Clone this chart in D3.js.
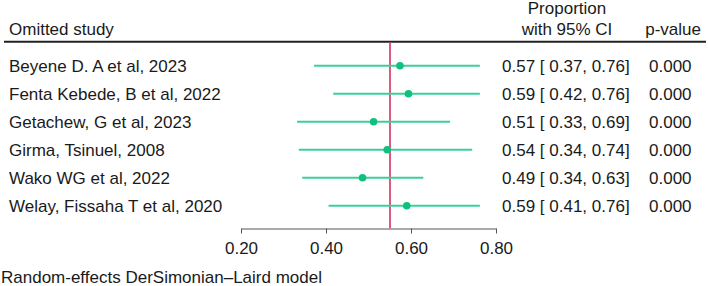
<!DOCTYPE html>
<html>
<head>
<meta charset="utf-8">
<script src="https://cdn.jsdelivr.net/npm/d3@7"></script>
<style>
  body { margin: 0; background: #fff; }
  text { font-family: "Liberation Sans", Arial, sans-serif; fill: #1a1a1a; }
</style>
</head>
<body>
<script>
// Leave-one-out sensitivity forest plot

const w = 708;
const h = 286;
const fs = "17px";

const studies = [
  "Beyene D. A et al, 2023",
  "Fenta Kebede, B et al, 2022",
  "Getachew, G et al, 2023",
  "Girma, Tsinuel, 2008",
  "Wako WG et al, 2022",
  "Welay, Fissaha T et al, 2020"
];
const estimate = [0.574, 0.594, 0.512, 0.544, 0.486, 0.590];
const lower    = [0.372, 0.417, 0.332, 0.336, 0.344, 0.406];
const upper    = [0.762, 0.762, 0.692, 0.744, 0.629, 0.762];
const pvalue   = ["0.000", "0.000", "0.000", "0.000", "0.000", "0.000"];
const overall  = 0.5506;
const xTicks   = [0.2, 0.4, 0.6, 0.8];

const rows = studies.map((s, i) => ({
  study: s, est: estimate[i], lo: lower[i], hi: upper[i], p: pvalue[i]
}));

const svg = d3.select("body")
  .append("svg")
  .attr("width", w)
  .attr("height", h);

const x_scale = d3.scaleLinear()
  .domain([0.2, 0.8])
  .range([241, 496]);

const y_scale = d3.scaleBand()
  .domain(studies)
  .range([51.7, 219.7]);

const f2 = d3.format(".2f");

// header
svg.append("text").attr("x", 9).attr("y", 35).attr("font-size", fs).text("Omitted study");
svg.append("text").attr("x", 567).attr("y", 14).attr("text-anchor", "middle").attr("font-size", fs).text("Proportion");
svg.append("text").attr("x", 567).attr("y", 35).attr("text-anchor", "middle").attr("font-size", fs).text("with 95% CI");
svg.append("text").attr("x", 701).attr("y", 35).attr("text-anchor", "end").attr("font-size", fs).text("p-value");

svg.append("line")
  .attr("x1", 4).attr("x2", 706)
  .attr("y1", 41.7).attr("y2", 41.7)
  .attr("stroke", "#222")
  .attr("stroke-width", 2);

// axis
const x_axis = d3.axisBottom(x_scale)
  .tickValues(xTicks)
  .tickFormat(f2)
  .tickSize(5)
  .tickSizeOuter(0);

const ax = svg.append("g")
  .attr("class", "x axis")
  .attr("transform", "translate(0,228.5)")
  .call(x_axis);
ax.select(".domain").attr("stroke", "#555");
ax.selectAll(".tick line").attr("stroke", "#555");
ax.selectAll(".tick text")
  .attr("font-size", fs)
  .attr("font-family", "Liberation Sans, Arial, sans-serif")
  .attr("fill", "#1a1a1a")
  .attr("dy", null)
  .attr("y", 25.5);

// overall estimate line
svg.append("line")
  .attr("x1", x_scale(overall)).attr("x2", x_scale(overall))
  .attr("y1", 42.7).attr("y2", 228.5)
  .attr("stroke", "#dc5a80")
  .attr("stroke-width", 2);

const row = svg.selectAll(".row")
  .data(rows)
  .enter()
  .append("g")
  .attr("class", "row")
  .attr("transform", d => `translate(0,${y_scale(d.study) + y_scale.bandwidth() / 2})`);

row.append("line")
  .attr("x1", d => x_scale(d.lo))
  .attr("x2", d => x_scale(d.hi))
  .attr("stroke", "#3ccf9a")
  .attr("stroke-width", 2);

row.append("circle")
  .attr("cx", d => x_scale(d.est))
  .attr("r", 3.8)
  .attr("fill", "#10c07e");

row.append("text")
  .attr("x", 9).attr("y", 6.5)
  .attr("font-size", fs)
  .text(d => d.study);

row.append("text")
  .attr("x", 502).attr("y", 6.5)
  .attr("font-size", fs)
  .attr("xml:space", "preserve")
  .style("white-space", "pre")
  .text(d => `${f2(d.est)} [ ${f2(d.lo)}, ${f2(d.hi)}]`);

row.append("text")
  .attr("x", 649).attr("y", 6.5)
  .attr("font-size", fs)
  .text(d => d.p);

// footnote
svg.append("text")
  .attr("x", 1).attr("y", 283)
  .attr("font-size", fs)
  .text("Random-effects DerSimonian–Laird model");
</script>
</body>
</html>
